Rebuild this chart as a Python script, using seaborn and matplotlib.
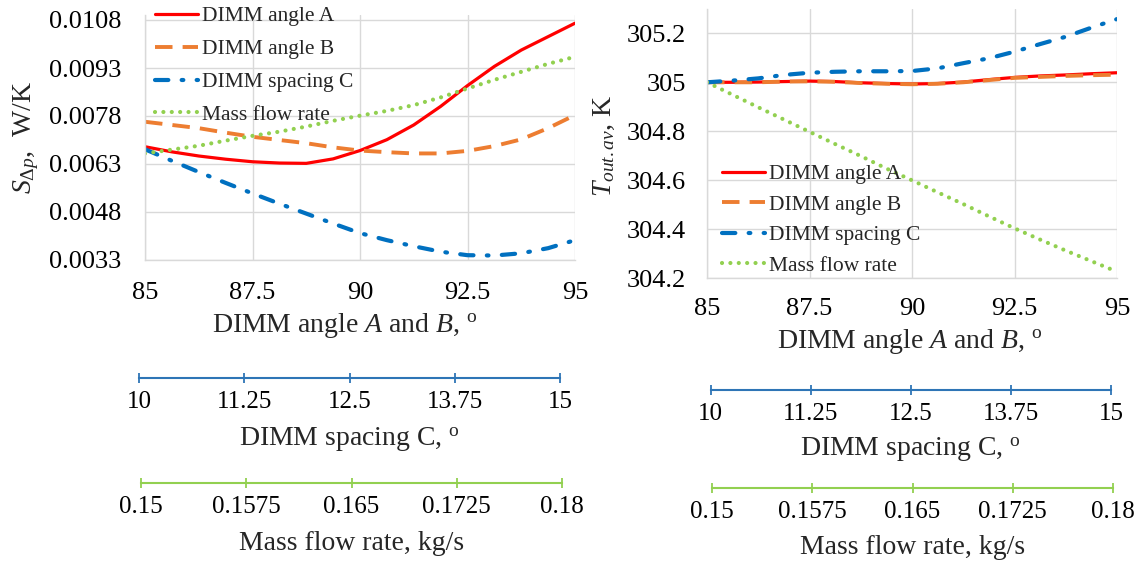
import matplotlib
matplotlib.use("Agg")
import matplotlib.pyplot as plt
import seaborn as sns
import pandas as pd

# ---------------- data ----------------
angle = [85, 85.625, 86.25, 86.875, 87.5, 88.125, 88.75, 89.375, 90,
         90.625, 91.25, 91.875, 92.5, 93.125, 93.75, 94.375, 95]
angle_ticks = [85, 87.5, 90, 92.5, 95]
angle_tick_labels = ["85", "87.5", "90", "92.5", "95"]
spacing_ticks = [10, 11.25, 12.5, 13.75, 15]
spacing_tick_labels = ["10", "11.25", "12.5", "13.75", "15"]
mass_ticks = [0.15, 0.1575, 0.165, 0.1725, 0.18]
mass_tick_labels = ["0.15", "0.1575", "0.165", "0.1725", "0.18"]

series_names = ["DIMM angle A", "DIMM angle B", "DIMM spacing C", "Mass flow rate"]

s_A = [0.00684, 0.00668, 0.00655, 0.00645, 0.00637, 0.00633, 0.00632, 0.00646, 0.00672,
       0.00706, 0.00752, 0.00810, 0.00875, 0.00935, 0.00986, 0.01028, 0.01070]
s_B = [0.00762, 0.00752, 0.00742, 0.00728, 0.00715, 0.00705, 0.00695, 0.00682, 0.00672,
       0.00667, 0.00663, 0.00663, 0.00671, 0.00686, 0.00707, 0.00742, 0.00783]
s_C = [0.00676, 0.00640, 0.00605, 0.00571, 0.00538, 0.00506, 0.00475, 0.00444, 0.00414,
       0.00392, 0.00373, 0.00356, 0.00345, 0.00344, 0.00351, 0.00367, 0.00392]
s_M = [0.00663, 0.00675, 0.00687, 0.00703, 0.00718, 0.00731, 0.00747, 0.00765, 0.00781,
       0.00796, 0.00814, 0.00838, 0.00866, 0.00893, 0.00918, 0.00943, 0.00965]

t_A = [305.0, 305.0, 305.001, 305.003, 305.005, 305.003, 304.998, 304.995, 304.993,
       304.995, 305.001, 305.011, 305.020, 305.026, 305.030, 305.035, 305.039]
t_B = [305.0, 305.0, 305.0, 305.003, 305.004, 305.002, 304.997, 304.994, 304.992,
       304.994, 305.0, 305.009, 305.018, 305.022, 305.026, 305.029, 305.031]
t_C = [305.0, 305.007, 305.016, 305.030, 305.039, 305.043, 305.045, 305.045, 305.046,
       305.057, 305.078, 305.098, 305.125, 305.156, 305.186, 305.223, 305.258]
t_M = [305.0, 304.949, 304.898, 304.848, 304.798, 304.748, 304.699, 304.648, 304.600,
       304.551, 304.503, 304.453, 304.404, 304.358, 304.313, 304.270, 304.227]

s_ticks = [0.0033, 0.0048, 0.0063, 0.0078, 0.0093, 0.0108]
t_ticks = [304.2, 304.4, 304.6, 304.8, 305.0, 305.2]
t_tick_labels = ["304.2", "304.4", "304.6", "304.8", "305", "305.2"]

# ---------------- style ----------------
sns.set_theme(style="white")
plt.rcParams["font.family"] = ["Liberation Serif", "DejaVu Serif"]
plt.rcParams["mathtext.fontset"] = "custom"
plt.rcParams["mathtext.rm"] = "Liberation Serif"
plt.rcParams["mathtext.it"] = "Liberation Serif:italic"
plt.rcParams["mathtext.bf"] = "Liberation Serif:bold"

W, H = 1137, 566
fig = plt.figure(figsize=(W / 100, H / 100), dpi=100)
fig.patch.set_facecolor("white")


def fx(x):
    return x / W


def fy(y):
    return 1 - y / H


RED = "#ff0000"
ORANGE = "#ed7d31"
BLUE = "#0070c0"
GREEN = "#92d050"
AXBLUE = "#2e75b6"
GRID = "#d9d9d9"

styles = {
    "DIMM angle A": dict(color=RED, lw=2.3, linestyle="-"),
    "DIMM angle B": dict(color=ORANGE, lw=2.8, linestyle=(0, (4.5, 2.6)), dash_capstyle="butt"),
    "DIMM spacing C": dict(color=BLUE, lw=3.0, linestyle=(0, (3.2, 3.2, 0.4, 3.2)), dash_capstyle="round"),
    "Mass flow rate": dict(color=GREEN, lw=3.0, linestyle=(0, (0.01, 2.0)), dash_capstyle="round"),
}

TICK_FS = 19
LABEL_FS = 20
LEG_FS = 15.5


def main_axes(rect, ys, ylim, yticks, ytlabels, xpad, ypad):
    ax = fig.add_axes(rect)
    for name, vals in zip(series_names, ys):
        df = pd.DataFrame({"angle": angle, "value": vals})
        sns.lineplot(data=df, x="angle", y="value", ax=ax, label=name, **styles[name])
    ax.set_xlim(85, 95)
    ax.set_ylim(*ylim)
    ax.set_xticks(angle_ticks)
    ax.set_xticklabels(angle_tick_labels)
    ax.set_yticks(yticks)
    ax.set_yticklabels(ytlabels)
    ax.grid(True, color=GRID, lw=1.0)
    ax.set_axisbelow(True)
    for s in ["top", "right"]:
        ax.spines[s].set_visible(False)
    for s in ["left", "bottom"]:
        ax.spines[s].set_color(GRID)
        ax.spines[s].set_linewidth(1.0)
    ax.tick_params(axis="both", length=0, labelsize=TICK_FS, colors="black")
    ax.tick_params(axis="x", pad=xpad)
    ax.tick_params(axis="y", pad=ypad)
    ax.set_facecolor("white")
    return ax


# Left: entropy generation
axL = main_axes([fx(145), fy(260), fx(575) - fx(145), fy(15) - fy(260)],
                [s_A, s_B, s_C, s_M], (0.0033, 0.0033 + 245 / 32000),
                s_ticks, [f"{v:.4f}" for v in s_ticks], 16, 17)
axL.set_xlabel(r"DIMM angle $A$ and $B$, $^{\mathrm{o}}$", fontsize=LABEL_FS)
axL.xaxis.set_label_coords(fx(345), fy(325), transform=fig.transFigure)
axL.xaxis.label.set_va("center")
axL.set_ylabel(r"$S_{\Delta p}$,  W/K", fontsize=LABEL_FS)
axL.yaxis.set_label_coords(fx(26), fy(137), transform=fig.transFigure)
axL.yaxis.label.set_va("center")
axL.yaxis.label.set_ha("center")
axL.legend(loc="upper left", bbox_to_anchor=(0.023, 1.035), frameon=False,
           fontsize=LEG_FS, handlelength=2.0, handletextpad=0.18, labelspacing=0.59,
           borderpad=0, borderaxespad=0)

# Right: outlet temperature
axR = main_axes([fx(707), fy(278.3), fx(1117) - fx(707), fy(9.3) - fy(278.3)],
                [t_A, t_B, t_C, t_M], (304.2, 304.2 + 269 / 245),
                t_ticks, t_tick_labels, 14, 15)
axR.set_xlabel(r"DIMM angle $A$ and $B$, $^{\mathrm{o}}$", fontsize=LABEL_FS)
axR.xaxis.set_label_coords(fx(910), fy(342), transform=fig.transFigure)
axR.xaxis.label.set_va("center")
axR.set_ylabel(r"$T_{out.av}$, K", fontsize=LABEL_FS)
axR.yaxis.set_label_coords(fx(604), fy(146), transform=fig.transFigure)
axR.yaxis.label.set_va("center")
axR.yaxis.label.set_ha("center")
axR.legend(loc="upper left", bbox_to_anchor=(0.037, 0.425), frameon=False,
           fontsize=LEG_FS, handlelength=2.0, handletextpad=0.18, labelspacing=0.49,
           borderpad=0, borderaxespad=0)


# Secondary scales (drawn as separate axis lines)
def scale_axis(x0, x1, yline, lim, ticks, labels, color, title, ytitle):
    ax = fig.add_axes([fx(x0), fy(yline), fx(x1) - fx(x0), 0.0005])
    ax.set_facecolor("none")
    for s in ["top", "left", "right"]:
        ax.spines[s].set_visible(False)
    ax.spines["bottom"].set_color(color)
    ax.spines["bottom"].set_linewidth(1.5)
    ax.set_xlim(*lim)
    ax.set_xticks(ticks)
    ax.set_xticklabels(labels)
    ax.set_yticks([])
    ax.tick_params(axis="x", bottom=True, direction="inout", length=7, width=1.3,
                   color=color, labelcolor="black", labelsize=18, pad=6)
    ax.grid(False)
    ax.set_xlabel(title, fontsize=20)
    ax.xaxis.set_label_coords(fx((x0 + x1) / 2), fy(ytitle), transform=fig.transFigure)
    ax.xaxis.label.set_va("center")
    return ax


title_C = r"DIMM spacing C, $^{\mathrm{o}}$"
title_M = "Mass flow rate, kg/s"

scale_axis(139, 560, 378, (10, 15), spacing_ticks, spacing_tick_labels, AXBLUE, title_C, 440)
scale_axis(141, 562, 482.5, (0.15, 0.18), mass_ticks, mass_tick_labels, GREEN, title_M, 544)
scale_axis(710.5, 1111, 390, (10, 15), spacing_ticks, spacing_tick_labels, AXBLUE, title_C, 450)
scale_axis(712, 1113, 487.5, (0.15, 0.18), mass_ticks, mass_tick_labels, GREEN, title_M, 548)

fig.savefig("out.png", dpi=100, facecolor="white")
